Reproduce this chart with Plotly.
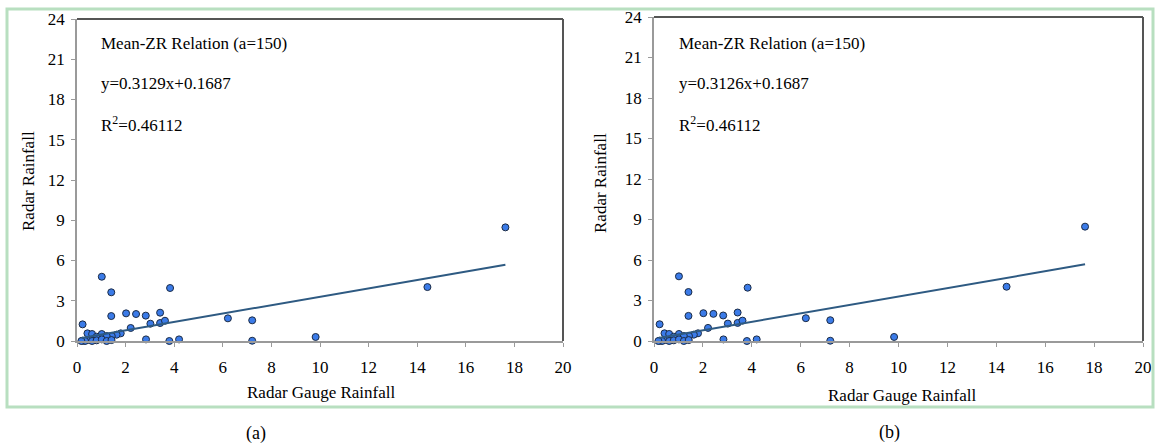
import plotly.graph_objects as go

# ---- data ----
gauge = [1.02, 1.41, 3.83, 0.23, 1.41, 2.02, 2.43, 2.83, 3.42, 3.02, 3.42, 3.62,
         2.21, 1.80, 1.63, 1.43, 0.43, 0.62, 1.02, 1.22, 0.81, 0.23, 0.43, 0.62,
         0.81, 1.02, 1.22, 1.42, 0.33, 0.18, 2.84, 3.80, 4.20, 6.21, 7.21, 7.21,
         9.82, 14.42, 17.63]
radar = [4.79, 3.63, 3.95, 1.24, 1.86, 2.06, 2.01, 1.89, 2.11, 1.29, 1.34, 1.51,
         0.97, 0.57, 0.47, 0.37, 0.57, 0.52, 0.52, 0.37, 0.32, 0.02, 0.07, 0.00,
         0.05, 0.12, 0.00, 0.07, 0.00, 0.00, 0.12, 0.00, 0.12, 1.69, 1.54, 0.02,
         0.30, 4.02, 8.47]

panels = ["(a)", "(b)"]
slopes = [0.3129, 0.3126]
intercept = 0.1687
r2 = "0.46112"
title_text = "Mean-ZR Relation (a=150)"
x_ticks = [0, 2, 4, 6, 8, 10, 12, 14, 16, 18, 20]
y_ticks = [0, 3, 6, 9, 12, 15, 18, 21, 24]
x_title = "Radar Gauge Rainfall"
y_title = "Radar Rainfall"

W, H = 1155, 443
def px(x): return x / W
def py(y): return (H - y) / H

FONT = "Liberation Serif"

fig = go.Figure()

# layout geometry (pixels)
geo = [
    dict(x0=77, x1=563, y0=341, y1=19, ytit_x=28, ytit_y=181, xtit_x=321, xtit_y=392,
         lab_x=256, lab_y=433, ann_x=99),
    dict(x0=654, x1=1143, y0=341, y1=17, ytit_x=601, ytit_y=183, xtit_x=902, xtit_y=395,
         lab_x=889, lab_y=432, ann_x=677),
]

xmin, xmax = min(gauge), max(gauge)
for i, g in enumerate(geo):
    xa = "x" if i == 0 else "x2"
    ya = "y" if i == 0 else "y2"
    fig.add_trace(go.Scatter(
        x=gauge, y=radar, mode="markers", xaxis=xa, yaxis=ya, cliponaxis=False,
        marker=dict(size=7, color="#3b7be8", line=dict(color="#1b2b45", width=1)),
        showlegend=False, hoverinfo="x+y"))
    fig.add_trace(go.Scatter(
        x=[xmin, xmax], y=[slopes[i] * xmin + intercept, slopes[i] * xmax + intercept],
        mode="lines", xaxis=xa, yaxis=ya, cliponaxis=False,
        line=dict(color="#2e5a82", width=2), showlegend=False))

    axis_common = dict(showgrid=False, zeroline=False, showline=True, linecolor="#9a9a9a",
                       linewidth=1.5, ticks="outside", ticklen=4, tickcolor="#9a9a9a",
                       automargin=False,
                       tickfont=dict(family=FONT, size=17, color="black"))
    xkey = "xaxis" if i == 0 else "xaxis2"
    ykey = "yaxis" if i == 0 else "yaxis2"
    fig.update_layout(**{
        xkey: dict(axis_common, domain=[px(g["x0"]), px(g["x1"])], range=[0, 20],
                   tickvals=x_ticks, anchor=ya, ticklabelstandoff=6),
        ykey: dict(axis_common, domain=[py(g["y0"]), py(g["y1"])], range=[0, 24],
                   tickvals=y_ticks, anchor=xa, ticklabelstandoff=3),
    })
    # dark top and right frame lines
    dref_x = ("x" if i == 0 else "x2") + " domain"
    dref_y = ("y" if i == 0 else "y2") + " domain"
    fig.add_shape(type="line", xref=dref_x, yref=dref_y, x0=0, x1=1, y0=1, y1=1,
                  line=dict(color="#555555", width=2))
    fig.add_shape(type="line", xref=dref_x, yref=dref_y, x0=1, x1=1, y0=0, y1=1,
                  line=dict(color="#555555", width=2))

    # text annotations
    texts = [title_text, "y=%.4fx+%.4f" % (slopes[i], intercept), "R<sup>2</sup>=" + r2]
    for t, yy in zip(texts, [44, 84, 124]):
        fig.add_annotation(text=t, x=px(g["ann_x"]), y=py(yy), xref="paper", yref="paper",
                           xanchor="left", yanchor="middle", showarrow=False,
                           font=dict(family=FONT, size=17, color="black"))
    fig.add_annotation(text=y_title, x=px(g["ytit_x"]), y=py(g["ytit_y"]), xref="paper",
                       yref="paper", textangle=-90, showarrow=False,
                       xanchor="center", yanchor="middle",
                       font=dict(family=FONT, size=17, color="black"))
    fig.add_annotation(text=x_title, x=px(g["xtit_x"]), y=py(g["xtit_y"]), xref="paper",
                       yref="paper", showarrow=False, xanchor="center", yanchor="middle",
                       font=dict(family=FONT, size=17, color="black"))
    fig.add_annotation(text=panels[i], x=px(g["lab_x"]), y=py(g["lab_y"]), xref="paper",
                       yref="paper", showarrow=False, xanchor="center", yanchor="middle",
                       font=dict(family=FONT, size=18, color="black"))

# green outer border
fig.add_shape(type="rect", xref="paper", yref="paper", x0=px(7), x1=px(1153),
              y0=py(407), y1=py(9), line=dict(color="#b8dfc0", width=3))

fig.update_layout(width=W, height=H,
                  margin=dict(l=0, r=0, t=0, b=0, pad=0, autoexpand=False),
                  paper_bgcolor="white", plot_bgcolor="white", showlegend=False,
                  font=dict(family=FONT, color="black"))

fig.write_html("out.html", config={"displayModeBar": False},
               post_script="document.body.style.margin='0px';document.body.style.overflow='hidden';")
